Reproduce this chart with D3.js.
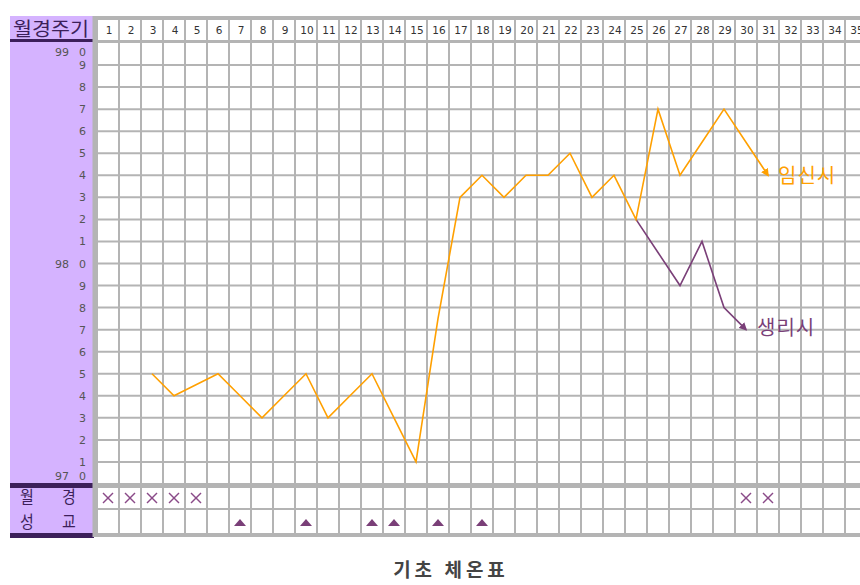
<!DOCTYPE html>
<html>
<head>
<meta charset="utf-8">
<script src="https://cdn.jsdelivr.net/npm/d3@7"></script>
<style>
  body { margin: 0; background: #fff; }
  svg { display: block; }
</style>
</head>
<body>
<div id="chart"></div>
<script>
// cycle days (header labels) and temperature ticks
const days = d3.range(1, 36);
const tempTicks = d3.range(970, 991).map(d => d / 10);

// temperature if pregnant
const pregDays  = [3, 4, 5, 6, 7, 8, 9, 10, 11, 12, 13, 14, 15, 16, 17, 18, 19, 20, 21, 22, 23, 24, 25, 26, 27, 28, 29, 30, 31];
const pregTemps = [97.5, 97.4, 97.45, 97.5, 97.4, 97.3, 97.4, 97.5, 97.3, 97.4, 97.5, 97.3, 97.1, 97.75, 98.3, 98.4, 98.3, 98.4, 98.4, 98.5, 98.3, 98.4, 98.2, 98.7, 98.4, 98.55, 98.7, 98.55, 98.4];

// temperature if period comes
const periodDays  = [25, 26, 27, 28, 29, 30];
const periodTemps = [98.2, 98.05, 97.9, 98.1, 97.8, 97.7];

// bottom rows
const rowLabels = ["월경", "성교"];
const mensesDays = [1, 2, 3, 4, 5, 30, 31];
const sexDays = [7, 10, 13, 14, 16, 18];

const W = 860, H = 585;
const gridLeft = 97, colW = 22;
const headTop = 16;
const rowTop = 43, rowBottom = 484, bottomEnd = 535;

const ORANGE = "#ffa000", PURPLE = "#7a3f78", GRID = "#b4b4b4", PANEL = "#d5b3ff", DARK = "#3c1f5a";

const svg = d3.select("#chart").append("svg")
  .attr("width", W).attr("height", H);

// scales
const x = d3.scaleBand().domain(days).range([gridLeft, gridLeft + colW * days.length]).padding(0);
const cx = d => x(d) + x.bandwidth() / 2;
const y = d3.scaleLinear().domain([97, 99]).range([rowBottom, rowTop]);

// left panel
svg.append("rect").attr("x", 10).attr("y", headTop).attr("width", 84).attr("height", bottomEnd + 3 - headTop).attr("fill", PANEL);
svg.append("text").attr("x", 51).attr("y", 36).attr("text-anchor", "middle")
  .attr("font-family", "Noto Sans CJK KR").attr("font-size", 19).attr("fill", DARK)
  .attr("textLength", 76).attr("lengthAdjust", "spacingAndGlyphs").text("월경주기");
svg.append("rect").attr("x", 10).attr("y", 39).attr("width", 84).attr("height", 3).attr("fill", DARK);
svg.append("rect").attr("x", 10).attr("y", 483).attr("width", 84).attr("height", 5).attr("fill", DARK);
svg.append("rect").attr("x", 10).attr("y", 533).attr("width", 84).attr("height", 5).attr("fill", DARK);

// temperature labels
const lab = svg.append("g").attr("font-family", "DejaVu Sans").attr("font-size", 11).attr("fill", "#555");
tempTicks.forEach(t => {
  let yy = y(t);
  if (t === 99) yy += 9;
  if (t === 97) yy -= 8;
  const tenth = Math.round(t * 10) % 10;
  lab.append("text").attr("x", 86).attr("y", yy + 4).attr("text-anchor", "end").text(tenth);
  if (tenth === 0) lab.append("text").attr("x", 69).attr("y", yy + 4).attr("text-anchor", "end").text(Math.floor(t + 0.001));
});

// bottom row labels, one text per row, characters spread apart
rowLabels.forEach((lbl, i) => {
  const t = svg.append("text").attr("transform", `translate(0,${503 + i * 24.5}) scale(1,1.1)`)
    .attr("font-family", "Noto Sans CJK KR").attr("font-size", 15).attr("fill", DARK);
  t.append("tspan").attr("x", 20).text(lbl[0]);
  t.append("tspan").attr("x", 62).text(lbl[1]);
});

// grid background
svg.append("rect").attr("x", gridLeft).attr("y", headTop).attr("width", W - gridLeft).attr("height", bottomEnd - headTop).attr("fill", "#fff");

const grid = svg.append("g").attr("stroke", GRID);
// vertical lines
grid.selectAll("line.v").data(days).enter().append("line")
  .attr("x1", d => x(d)).attr("x2", d => x(d))
  .attr("y1", headTop).attr("y2", bottomEnd)
  .attr("stroke-width", 2);
grid.append("line").attr("x1", x(35) + colW).attr("x2", x(35) + colW).attr("y1", headTop).attr("y2", bottomEnd).attr("stroke-width", 2);
// horizontal lines
grid.selectAll("line.h").data(tempTicks.slice(1, -1)).enter().append("line")
  .attr("x1", gridLeft).attr("x2", W).attr("y1", d => y(d)).attr("y2", d => y(d))
  .attr("stroke-width", 2);
grid.append("line").attr("x1", gridLeft).attr("x2", W).attr("y1", 509).attr("y2", 509).attr("stroke-width", 2);
grid.append("line").attr("x1", 93).attr("x2", W).attr("y1", 18).attr("y2", 18).attr("stroke-width", 4);
grid.append("line").attr("x1", gridLeft).attr("x2", W).attr("y1", 41.5).attr("y2", 41.5).attr("stroke-width", 3);
grid.append("line").attr("x1", gridLeft).attr("x2", W).attr("y1", 485.5).attr("y2", 485.5).attr("stroke-width", 5);
grid.append("line").attr("x1", gridLeft).attr("x2", W).attr("y1", 535).attr("y2", 535).attr("stroke-width", 4);
grid.append("line").attr("x1", 95).attr("x2", 95).attr("y1", headTop).attr("y2", 537).attr("stroke-width", 5);

// header day numbers
svg.append("g").attr("font-family", "DejaVu Sans").attr("font-size", 10.5).attr("fill", "#333")
  .selectAll("text").data(days).enter().append("text")
  .attr("x", d => cx(d) + 1).attr("y", 34).attr("text-anchor", "middle")
  .text(d => d);

// arrow markers
const defs = svg.append("defs");
[["arrO", ORANGE], ["arrP", PURPLE]].forEach(([id, c]) => {
  defs.append("marker").attr("id", id).attr("viewBox", "0 0 10 10")
    .attr("refX", 8).attr("refY", 5).attr("markerWidth", 8).attr("markerHeight", 8)
    .attr("markerUnits", "userSpaceOnUse").attr("orient", "auto")
    .append("path").attr("d", "M0,0 L10,5 L0,10 Z").attr("fill", c);
});

const line = d3.line().x(d => cx(d[0])).y(d => y(d[1]));

svg.append("path").datum(periodDays.map((d, i) => [d, periodTemps[i]]))
  .attr("d", line).attr("fill", "none").attr("stroke", PURPLE).attr("stroke-width", 1.6)
  .attr("marker-end", "url(#arrP)");
svg.append("path").datum(pregDays.map((d, i) => [d, pregTemps[i]]))
  .attr("d", line).attr("fill", "none").attr("stroke", ORANGE).attr("stroke-width", 1.6)
  .attr("marker-end", "url(#arrO)");

// series labels
svg.append("text").attr("x", 778).attr("y", 183).attr("font-family", "Noto Sans CJK KR")
  .attr("font-size", 20).attr("letter-spacing", 1).attr("fill", ORANGE).text("임신시");
svg.append("text").attr("x", 757).attr("y", 335).attr("font-family", "Noto Sans CJK KR")
  .attr("font-size", 20).attr("letter-spacing", 1).attr("fill", PURPLE).text("생리시");

// menstruation marks
const xm = svg.append("g").attr("stroke", "#8a4a88").attr("stroke-width", 1.4);
mensesDays.forEach(d => {
  const px = cx(d), py = 498;
  xm.append("line").attr("x1", px - 5).attr("y1", py - 5).attr("x2", px + 5).attr("y2", py + 5);
  xm.append("line").attr("x1", px - 5).attr("y1", py + 5).attr("x2", px + 5).attr("y2", py - 5);
});

// intercourse marks
svg.append("g").selectAll("path").data(sexDays).enter().append("path")
  .attr("d", d => `M${cx(d) - 6},526 L${cx(d)},519 L${cx(d) + 6},526 Z`)
  .attr("fill", PURPLE);

// title
svg.append("text").attr("x", 451).attr("y", 577).attr("text-anchor", "middle")
  .attr("font-family", "Noto Sans CJK KR").attr("font-weight", "bold").attr("font-size", 19)
  .attr("letter-spacing", 4).attr("fill", "#444").text("기초 체온표");
</script>
</body>
</html>
